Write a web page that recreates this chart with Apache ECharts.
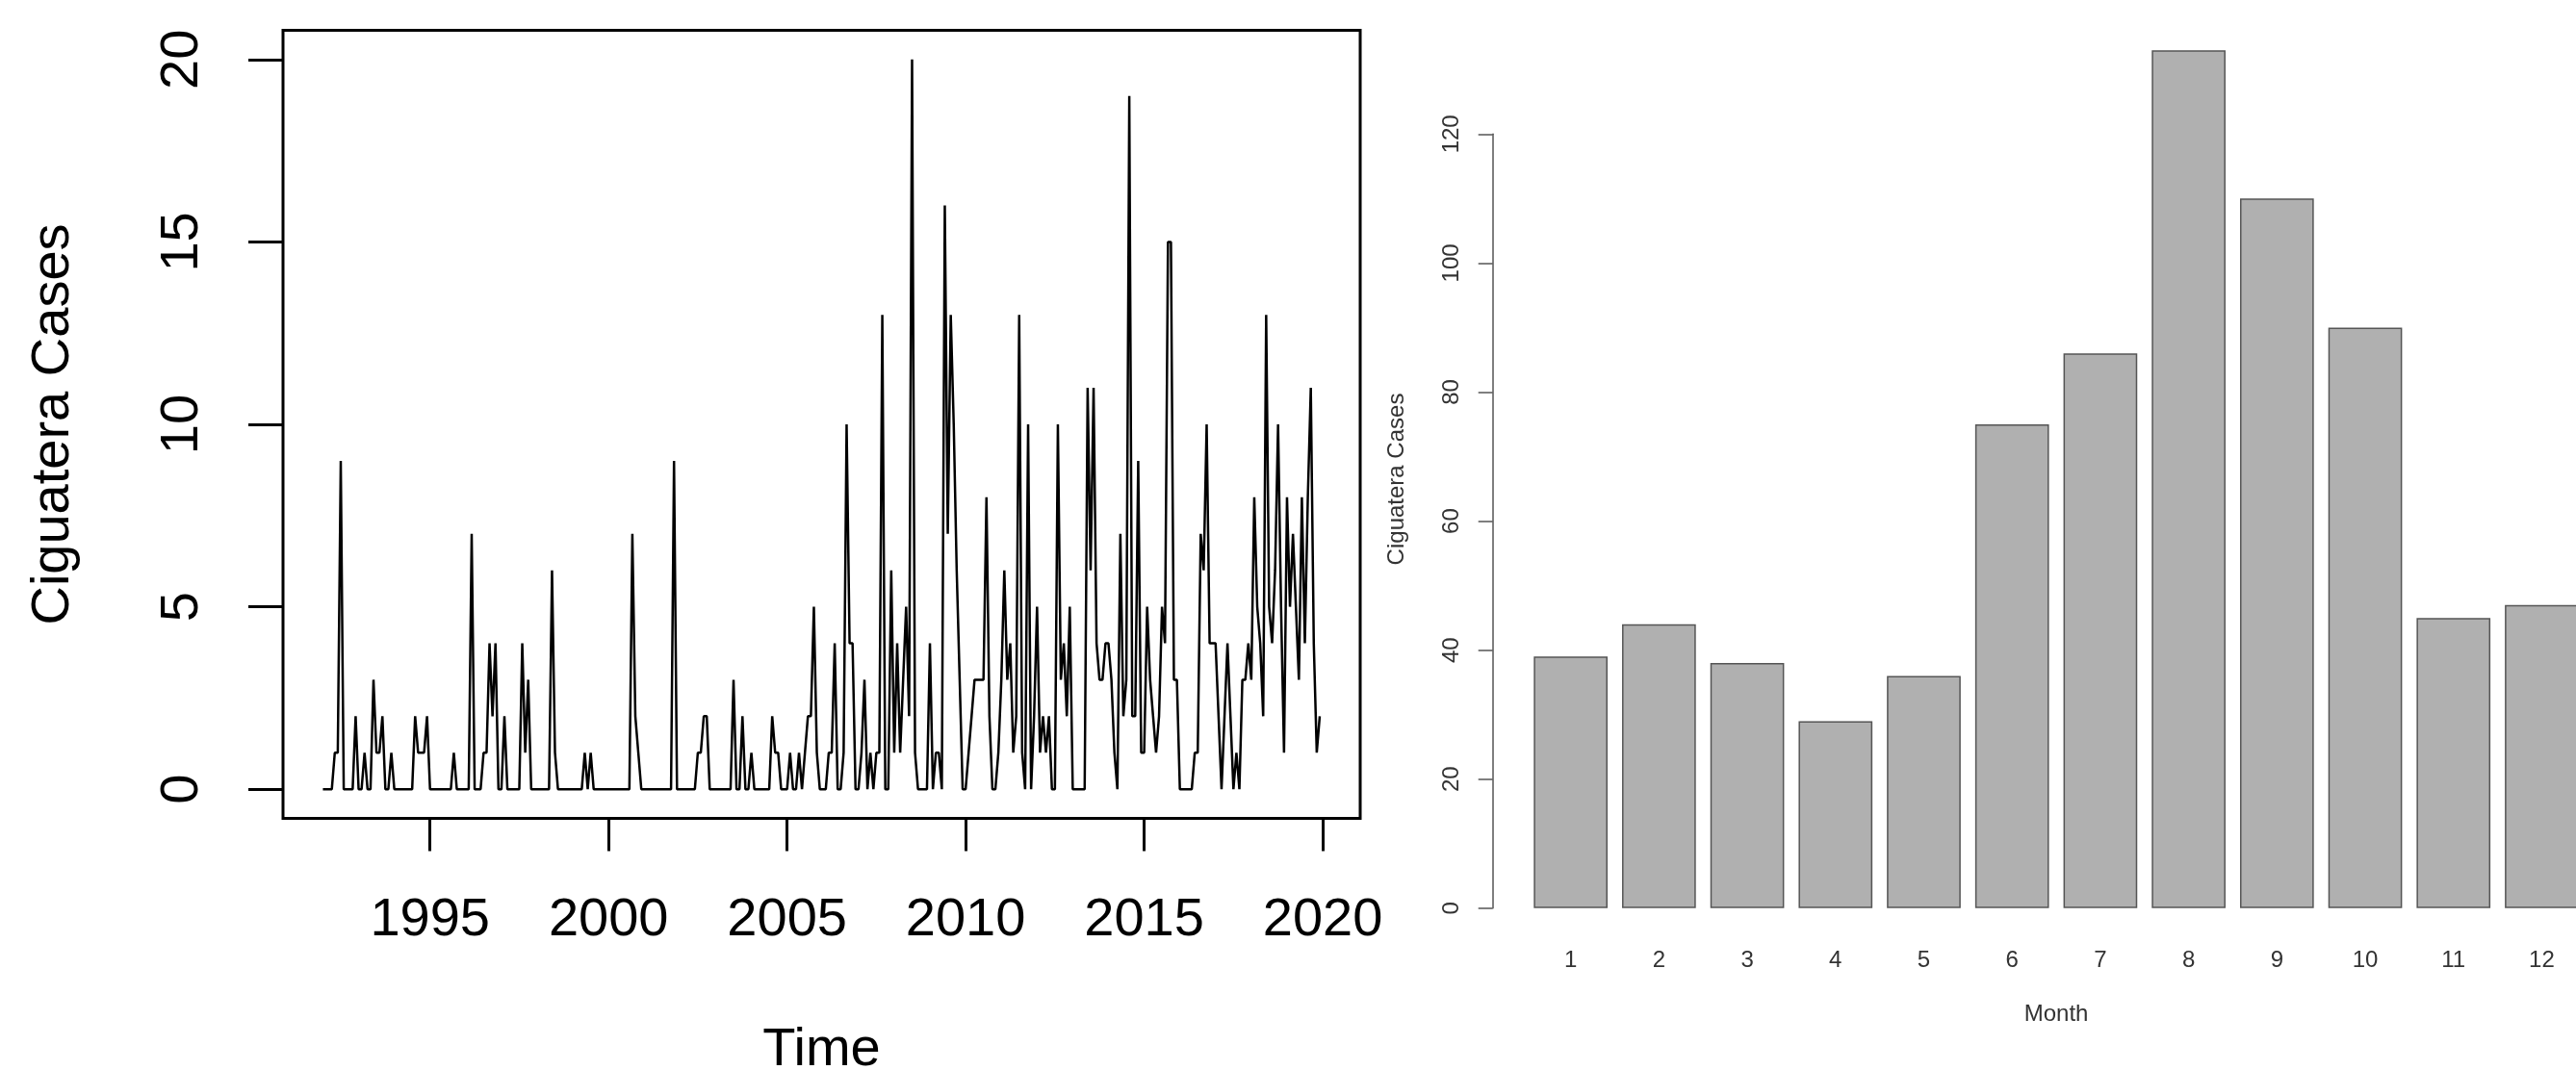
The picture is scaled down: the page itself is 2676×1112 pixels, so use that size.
<!DOCTYPE html>
<html>
<head>
<meta charset="utf-8">
<script src="https://cdn.jsdelivr.net/npm/echarts@6/dist/echarts.min.js"></script>
<style>
  html, body { margin: 0; padding: 0; background: #ffffff; }
  #chart { width: 2676px; height: 1112px; }
</style>
</head>
<body>
<div id="chart"></div>
<script>
// ---------- Data ----------
const startYear = 1992;
// Monthly ciguatera cases, Jan 1992 .. Dec 2019 (one row per year)
const monthlyCases = [
  0,0,0,0,1,1,9,0,0,0,0,2,      // 1992
  0,0,1,0,0,3,1,1,2,0,0,1,      // 1993
  0,0,0,0,0,0,0,2,1,1,1,2,      // 1994
  0,0,0,0,0,0,0,0,1,0,0,0,      // 1995
  0,0,7,0,0,0,1,1,4,2,4,0,      // 1996
  0,2,0,0,0,0,0,4,1,3,0,0,      // 1997
  0,0,0,0,0,6,1,0,0,0,0,0,      // 1998
  0,0,0,0,1,0,1,0,0,0,0,0,      // 1999
  0,0,0,0,0,0,0,0,7,2,1,0,      // 2000
  0,0,0,0,0,0,0,0,0,0,9,0,      // 2001
  0,0,0,0,0,0,1,1,2,2,0,0,      // 2002
  0,0,0,0,0,0,3,0,0,2,0,0,      // 2003
  1,0,0,0,0,0,0,2,1,1,0,0,      // 2004
  0,1,0,0,1,0,1,2,2,5,1,0,      // 2005
  0,0,1,1,4,0,0,1,10,4,4,0,     // 2006
  0,1,3,0,1,0,1,1,13,0,0,6,     // 2007
  1,4,1,3,5,2,20,1,0,0,0,0,     // 2008
  4,0,1,1,0,16,7,13,10,6,3,0,   // 2009
  0,1,2,3,3,3,3,8,2,0,0,1,      // 2010
  3,6,3,4,1,2,13,1,0,10,0,2,    // 2011
  5,1,2,1,2,0,0,10,3,4,2,5,     // 2012
  0,0,0,0,0,11,6,11,4,3,3,4,    // 2013
  4,3,1,0,7,2,3,19,2,2,9,1,     // 2014
  1,5,3,2,1,2,5,4,15,15,3,3,    // 2015
  0,0,0,0,0,1,1,7,6,10,4,4,     // 2016
  4,2,0,2,4,2,0,1,0,3,3,4,      // 2017
  3,8,5,4,2,13,5,4,6,10,5,1,    // 2018
  8,5,7,5,3,8,4,8,11,4,1,2      // 2019
];
const yearTicks = [1995, 2000, 2005, 2010, 2015, 2020];
const caseTicks = [0, 5, 10, 15, 20];

const monthNames = ['1','2','3','4','5','6','7','8','9','10','11','12'];
const monthTotals = [39, 44, 38, 29, 36, 75, 86, 133, 110, 90, 45, 47];
const barTicks = [0, 20, 40, 60, 80, 100, 120];

// time-series pairs (time in fractional years, from the month index)
const seriesPairs = monthlyCases.map((v, i) => [startYear + i / 12, v]);

// ---------- Chart ----------
const FONT = 'Liberation Sans, Arial, Helvetica, sans-serif';
const chart = echarts.init(document.getElementById('chart'), null, { renderer: 'canvas' });

const option = {
  animation: false,
  backgroundColor: '#ffffff',
  grid: [
    { left: 294, top: 31.5, width: 1119, height: 819, show: true,
      borderColor: '#000', borderWidth: 3, backgroundColor: 'transparent',
      containLabel: false, outerBoundsMode: 'none' },
    { left: 1585.8, top: 16.5, width: 1100.5, height: 963, show: false,
      containLabel: false, outerBoundsMode: 'none' },
    { left: 1550.7, top: 139.3, width: 10, height: 804.5, show: false,
      containLabel: false, outerBoundsMode: 'none' }
  ],
  xAxis: [
    { type: 'value', gridIndex: 0, min: 1990.883, max: 2021.05,
      axisLine: { show: false, onZero: false },
      axisTick: { show: true, inside: false, length: 34, customValues: yearTicks,
                  lineStyle: { color: '#000', width: 3 } },
      axisLabel: { customValues: yearTicks, formatter: v => String(v),
                   fontSize: 56, color: '#000', fontFamily: FONT, margin: 78 },
      splitLine: { show: false },
      name: 'Time', nameLocation: 'middle', nameGap: 213,
      nameTextStyle: { fontSize: 56, color: '#000', fontFamily: FONT } },
    { type: 'category', gridIndex: 1, data: monthNames,
      axisLine: { show: false, onZero: false },
      axisTick: { show: false },
      axisLabel: { fontSize: 24, color: '#333', fontFamily: FONT, margin: 7, interval: 0 },
      splitLine: { show: false },
      name: 'Month', nameLocation: 'middle', nameGap: 63,
      nameTextStyle: { fontSize: 24, color: '#333', fontFamily: FONT } },
    { type: 'value', gridIndex: 2, show: false, min: 0, max: 1 }
  ],
  yAxis: [
    { type: 'value', gridIndex: 0, min: -0.8, max: 20.8,
      axisLine: { show: false, onZero: false },
      axisTick: { show: true, inside: false, length: 36, customValues: caseTicks,
                  lineStyle: { color: '#000', width: 3 } },
      axisLabel: { customValues: caseTicks, formatter: v => String(v), rotate: 90,
                   fontSize: 56, color: '#000', fontFamily: FONT, margin: 76 },
      splitLine: { show: false },
      name: 'Ciguatera Cases', nameLocation: 'middle', nameGap: 210, nameRotate: 90,
      nameTextStyle: { fontSize: 56, color: '#000', fontFamily: FONT } },
    { type: 'value', gridIndex: 1, min: -5.32, max: 138.32,
      axisLine: { show: false, onZero: false },
      axisTick: { show: false },
      axisLabel: { show: false },
      splitLine: { show: false },
      name: 'Ciguatera Cases', nameLocation: 'middle', nameGap: 122, nameRotate: 90,
      nameTextStyle: { fontSize: 24, color: '#333', fontFamily: FONT } },
    { type: 'value', gridIndex: 2, min: 0, max: 120, interval: 20,
      axisLine: { show: true, onZero: false, lineStyle: { color: '#555', width: 1.5 } },
      axisTick: { show: true, inside: false, length: 15, lineStyle: { color: '#555', width: 1.5 } },
      axisLabel: { rotate: 90, fontSize: 24, color: '#333', fontFamily: FONT, margin: 30,
                   customValues: barTicks, formatter: v => String(v) },
      splitLine: { show: false } }
  ],
  series: [
    { type: 'line', xAxisIndex: 0, yAxisIndex: 0, data: seriesPairs,
      showSymbol: false, symbol: 'none',
      lineStyle: { color: '#000', width: 2.5 }, z: 3 },
    { type: 'bar', xAxisIndex: 1, yAxisIndex: 1, data: monthTotals,
      barWidth: '83.6%',
      itemStyle: { color: '#B0B0B0', borderColor: '#555', borderWidth: 1.5 } }
  ]
};
chart.setOption(option);
</script>
</body>
</html>
